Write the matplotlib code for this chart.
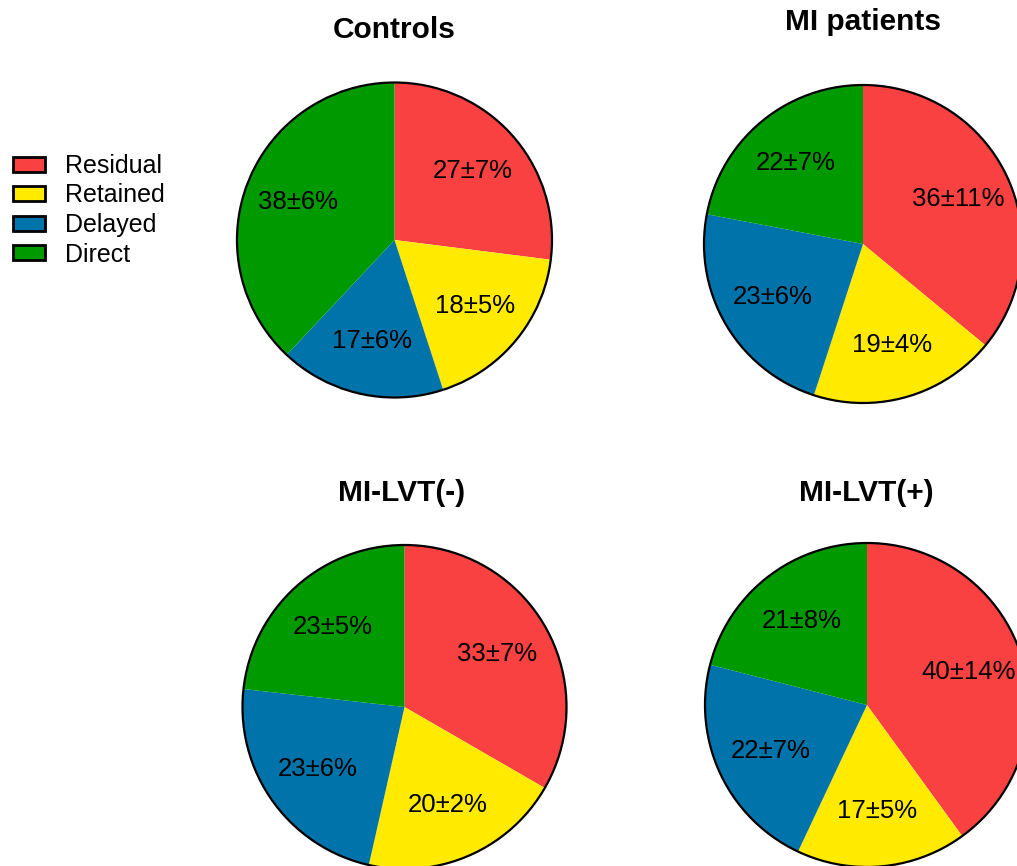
import matplotlib
matplotlib.use("Agg")
import matplotlib.pyplot as plt
from matplotlib.patches import Patch, Circle

plt.rcParams['font.family'] = ['Liberation Sans', 'DejaVu Sans']

categories = ["Residual", "Retained", "Delayed", "Direct"]
colors = ["#FA4141", "#FFEA00", "#0073AA", "#009900"]

groups = ["Controls", "MI patients", "MI-LVT(-)", "MI-LVT(+)"]
means = [
    [27, 18, 17, 38],
    [36, 19, 23, 22],
    [33, 20, 23, 23],
    [40, 17, 22, 21],
]
sds = [
    [7, 5, 6, 6],
    [11, 4, 6, 7],
    [7, 2, 6, 5],
    [14, 5, 7, 8],
]

W, H = 1017, 866
fig = plt.figure(figsize=(W / 100, H / 100), dpi=100)

# pie centre (x, y from top) and radius in pixels
layout = [
    (394.5, 240, 157.5),
    (863, 244, 159),
    (404.5, 707, 162),
    (867, 705, 162),
]
titles_pos = [(394.5, 30), (863, 22), (402, 493), (866, 493)]

pad = 1.03
for g, (cx, cy, r), (tx, ty), m, s in zip(groups, layout, titles_pos, means, sds):
    left = (cx - pad * r) / W
    bottom = (H - cy - pad * r) / H
    ax = fig.add_axes([left, bottom, 2 * pad * r / W, 2 * pad * r / H])
    texts = iter(f"{a}\u00b1{b}%" for a, b in zip(m, s))
    ax.pie(m, colors=colors, startangle=90, counterclock=False,
           autopct=lambda p: next(texts), pctdistance=0.66,
           wedgeprops=dict(linewidth=0),
           textprops=dict(fontsize=18.5, color="black"))
    ax.add_patch(Circle((0, 0), 1, fill=False, edgecolor="black", lw=1.6))
    ax.set_xlim(-pad, pad)
    ax.set_ylim(-pad, pad)
    ax.set_aspect("equal")
    fig.text(tx / W, 1 - ty / H, g, ha="center", va="center",
             fontsize=21.5, fontweight="bold")

handles = [Patch(facecolor=c, edgecolor="black", linewidth=2) for c in colors]
fig.legend(handles, categories, loc="upper left",
           bbox_to_anchor=(13 / W, 1 - 154 / H), frameon=False,
           fontsize=18, handlelength=1.28, handleheight=0.56,
           handletextpad=0.8, labelspacing=0.22, borderpad=0,
           borderaxespad=0)

fig.savefig("out.png", dpi=100)
